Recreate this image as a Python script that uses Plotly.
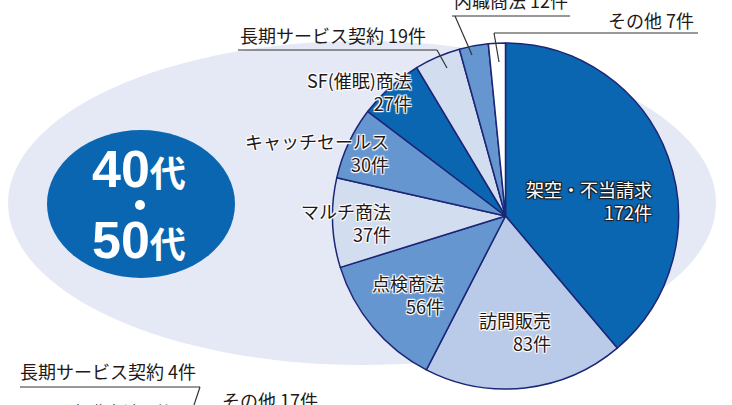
import plotly.graph_objects as go

W, H = 732, 405

categories = ["架空・不当請求", "訪問販売", "点検商法", "マルチ商法", "キャッチセールス",
              "SF(催眠)商法", "長期サービス契約", "内職商法", "その他"]
counts = [172, 83, 56, 37, 30, 27, 19, 12, 7]
slice_colors = ["#0b66b2", "#b9cbe8", "#6696cf", "#d3ddf0", "#6696cf",
                "#0b66b2", "#d3ddf0", "#6696cf", "#ffffff"]

# labels of the pie (text)
inner_labels = ["架空・不当請求<br>172件", "訪問販売<br>83件", "点検商法<br>56件",
                "マルチ商法<br>37件", "キャッチセールス<br>30件", "SF(催眠)商法<br>27件"]
outer_labels = ["長期サービス契約 19件", "内職商法 12件", "その他 7件"]
other_chart_labels = ["長期サービス契約 4件", "その他 17件", "内職商法 3件"]
title_lines = ["40", "50"]


def px(x):
    return x / W


def py(y):
    return 1 - y / H


FONT = "Noto Sans CJK JP, Noto Sans, sans-serif"
TXT = "#231815"
WHITE_HALO = "1px 1px 1px #fff, -1px -1px 1px #fff, 1px -1px 1px #fff, -1px 1px 1px #fff, 0 1px 1px #fff, 0 -1px 1px #fff"
DARK_HALO = "1px 1px 1px #1a1a1a, -1px -1px 1px #1a1a1a, 1px -1px 1px #1a1a1a, -1px 1px 1px #1a1a1a"

cx, cy, r = 505.5, 216, 173

fig = go.Figure()
fig.add_trace(go.Pie(
    labels=categories, values=counts, sort=False, direction="clockwise", rotation=0,
    marker=dict(colors=slice_colors, line=dict(color="#1c2677", width=1.5)),
    textinfo="none", hoverinfo="none", showlegend=False,
    domain=dict(x=[px(cx - r), px(cx + r)], y=[py(cy + r), py(cy - r)]),
))

shapes = []
# light background ellipse
shapes.append(dict(type="circle", xref="paper", yref="paper", layer="below",
                   x0=px(8), x1=px(716), y0=py(365), y1=py(41),
                   fillcolor="#e5e9f5", line=dict(width=0)))
# dark badge ellipse
shapes.append(dict(type="circle", xref="paper", yref="paper", layer="above",
                   x0=px(47), x1=px(235), y0=py(278), y1=py(130),
                   fillcolor="#0b66b2", line=dict(width=0)))
# dot in the badge
shapes.append(dict(type="circle", xref="paper", yref="paper", layer="above",
                   x0=px(135), x1=px(145), y0=py(210), y1=py(200),
                   fillcolor="#ffffff", line=dict(width=0)))


def line(x0, y0, x1, y1):
    shapes.append(dict(type="line", xref="paper", yref="paper", layer="above",
                       x0=px(x0), y0=py(y0), x1=px(x1), y1=py(y1),
                       line=dict(color="#333333", width=1.2)))


# leader lines
line(238, 50, 437, 50); line(437, 50, 447, 68)
line(452, 16, 570, 16); line(455, 16, 472, 55)
line(494, 33, 698, 33); line(494, 33, 499, 62)
line(20, 387, 200, 387); line(200, 387, 194, 405)

annotations = []


def ann(text, x, y, xanchor="right", size=18, color=TXT, shadow=WHITE_HALO, align="right"):
    annotations.append(dict(text=text, x=px(x), y=py(y), xref="paper", yref="paper",
                            xanchor=xanchor, yanchor="middle", showarrow=False, align=align,
                            font=dict(family=FONT, size=size, color=color, shadow=shadow)))


ann(inner_labels[0], 654, 201, color="#ffffff", shadow=DARK_HALO)
ann(inner_labels[1], 553, 331)
ann(inner_labels[2], 446, 294)
ann(inner_labels[3], 393, 222)
ann(inner_labels[4], 391, 152)
ann(inner_labels[5], 414, 91)
ann(outer_labels[0], 238, 35, xanchor="left", align="left", shadow=None)
ann(outer_labels[1], 452, 0, xanchor="left", align="left", shadow=None)
ann(outer_labels[2], 696, 20, xanchor="right", shadow=None)
ann(other_chart_labels[0], 18, 371, xanchor="left", align="left", shadow=None)
ann(other_chart_labels[1], 220, 400, xanchor="left", align="left", shadow=None)
ann(other_chart_labels[2], 67, 412, xanchor="left", align="left", shadow=None)

for t, yy in zip(title_lines, [169, 240]):
    annotations.append(dict(
        text=f"<b>{t}<span style='font-size:36px'>代</span></b>",
        x=px(139), y=py(yy), xref="paper", yref="paper", xanchor="center", yanchor="middle",
        showarrow=False,
        font=dict(family="Liberation Sans, Noto Sans CJK JP, sans-serif", size=52, color="#ffffff")))

fig.update_layout(
    width=W, height=H, margin=dict(l=0, r=0, t=0, b=0),
    paper_bgcolor="#ffffff", plot_bgcolor="#ffffff",
    shapes=shapes, annotations=annotations,
)

fig.write_html("out.html", config={"displayModeBar": False, "staticPlot": True},
               post_script="document.body.style.margin='0';document.body.style.padding='0';")
